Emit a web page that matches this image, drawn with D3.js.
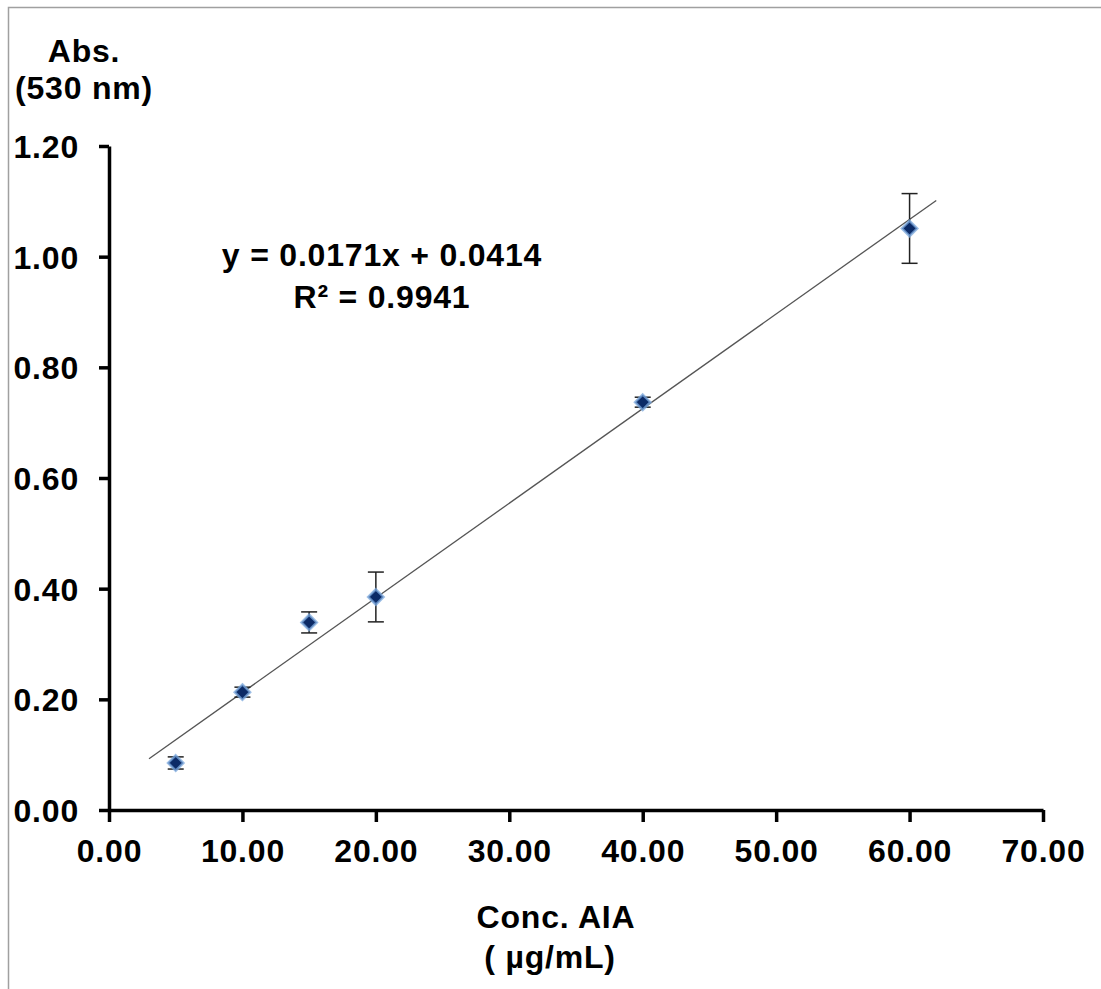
<!DOCTYPE html>
<html>
<head>
<meta charset="utf-8">
<script src="https://cdn.jsdelivr.net/npm/d3@7"></script>
<style>
  body { margin: 0; background: #fff; }
  text { font-family: "Liberation Sans", Arial, sans-serif; font-weight: bold; fill: #000; letter-spacing: 0.8px; }
</style>
</head>
<body>
<div id="chart"></div>
<script>
// 数据
const concValues = [5, 10, 15, 20, 40, 60];
const absValues = [0.085, 0.213, 0.339, 0.385, 0.737, 1.051];
const errValues = [0.011, 0.009, 0.019, 0.045, 0.009, 0.063];
const xTicks = [0, 10, 20, 30, 40, 50, 60, 70];
const yTicks = [0, 0.2, 0.4, 0.6, 0.8, 1.0, 1.2];
const slope = 0.0171, intercept = 0.0414;
const trendRange = [3, 62];

const width = 1101, height = 989;
const fontSize = "32px";
const svg = d3.select("#chart").append("svg")
  .attr("width", width)
  .attr("height", height);

// 外框
svg.append("path")
  .attr("d", "M8.5,989 V7.5 H1101")
  .attr("fill", "none")
  .attr("stroke", "#a0a0a0")
  .attr("stroke-width", 1.5);

const x = d3.scaleLinear().domain([0, 70]).range([109, 1043]);
const y = d3.scaleLinear().domain([0, 1.2]).range([810, 146]);

// 坐标轴
const xAxis = svg.append("g")
  .attr("transform", `translate(0, ${y(0)})`)
  .call(d3.axisBottom(x).tickValues(xTicks).tickSize(12).tickSizeOuter(0).tickFormat(d3.format(".2f")));
const yAxis = svg.append("g")
  .attr("transform", `translate(${x(0)}, 0)`)
  .call(d3.axisLeft(y).tickValues(yTicks).tickSize(10).tickSizeOuter(0).tickFormat(d3.format(".2f")));

[xAxis, yAxis].forEach(a => {
  a.select(".domain").attr("stroke", "#000").attr("stroke-width", 3.5);
  a.selectAll(".tick line").attr("stroke", "#000").attr("stroke-width", 3.5);
  a.selectAll("text")
    .attr("font-size", fontSize)
    .style("font-family", "'Liberation Sans', Arial, sans-serif")
    .style("font-weight", "bold")
    .attr("fill", "#000");
});
xAxis.selectAll("text").attr("dy", null).attr("y", 52);
yAxis.selectAll("text").attr("x", -30).attr("dy", "0.36em");

// 趋势线
svg.append("line")
  .attr("x1", x(trendRange[0]))
  .attr("y1", y(slope * trendRange[0] + intercept))
  .attr("x2", x(trendRange[1]))
  .attr("y2", y(slope * trendRange[1] + intercept))
  .attr("stroke", "#555")
  .attr("stroke-width", 1.3);

const points = concValues.map((c, i) => ({ c: c, v: absValues[i], e: errValues[i] }));

// 误差线
const err = svg.append("g").attr("stroke", "#222").attr("stroke-width", 1.5);
points.forEach(d => {
  err.append("line")
    .attr("x1", x(d.c)).attr("x2", x(d.c))
    .attr("y1", y(d.v - d.e)).attr("y2", y(d.v + d.e));
  [d.v - d.e, d.v + d.e].forEach(v => {
    err.append("line")
      .attr("x1", x(d.c) - 8).attr("x2", x(d.c) + 8)
      .attr("y1", y(v)).attr("y2", y(v));
  });
});

// 菱形标记
const diamond = d3.symbol().type(d3.symbolDiamond2).size(150);
svg.append("g").selectAll("path")
  .data(points)
  .enter()
  .append("path")
  .attr("transform", d => `translate(${x(d.c)}, ${y(d.v)})`)
  .attr("d", diamond)
  .attr("fill", "#0b2a66")
  .attr("stroke", "#7aa7dc")
  .attr("stroke-width", 2.5)
  .attr("stroke-opacity", 0.75);

// 方程
svg.append("text").attr("x", 382).attr("y", 266).attr("text-anchor", "middle")
  .attr("font-size", fontSize).text("y = 0.0171x + 0.0414");
svg.append("text").attr("x", 382).attr("y", 308).attr("text-anchor", "middle")
  .attr("font-size", fontSize).text("R² = 0.9941");

// 轴标题
svg.append("text").attr("x", 84).attr("y", 62).attr("text-anchor", "middle")
  .attr("font-size", fontSize).text("Abs.");
svg.append("text").attr("x", 84).attr("y", 99).attr("text-anchor", "middle")
  .attr("font-size", fontSize).text("(530 nm)");
svg.append("text").attr("x", 556).attr("y", 928).attr("text-anchor", "middle")
  .attr("font-size", fontSize).text("Conc. AIA");
svg.append("text").attr("x", 550).attr("y", 968).attr("text-anchor", "middle")
  .attr("font-size", fontSize).text("( µg/mL)");
</script>
</body>
</html>
